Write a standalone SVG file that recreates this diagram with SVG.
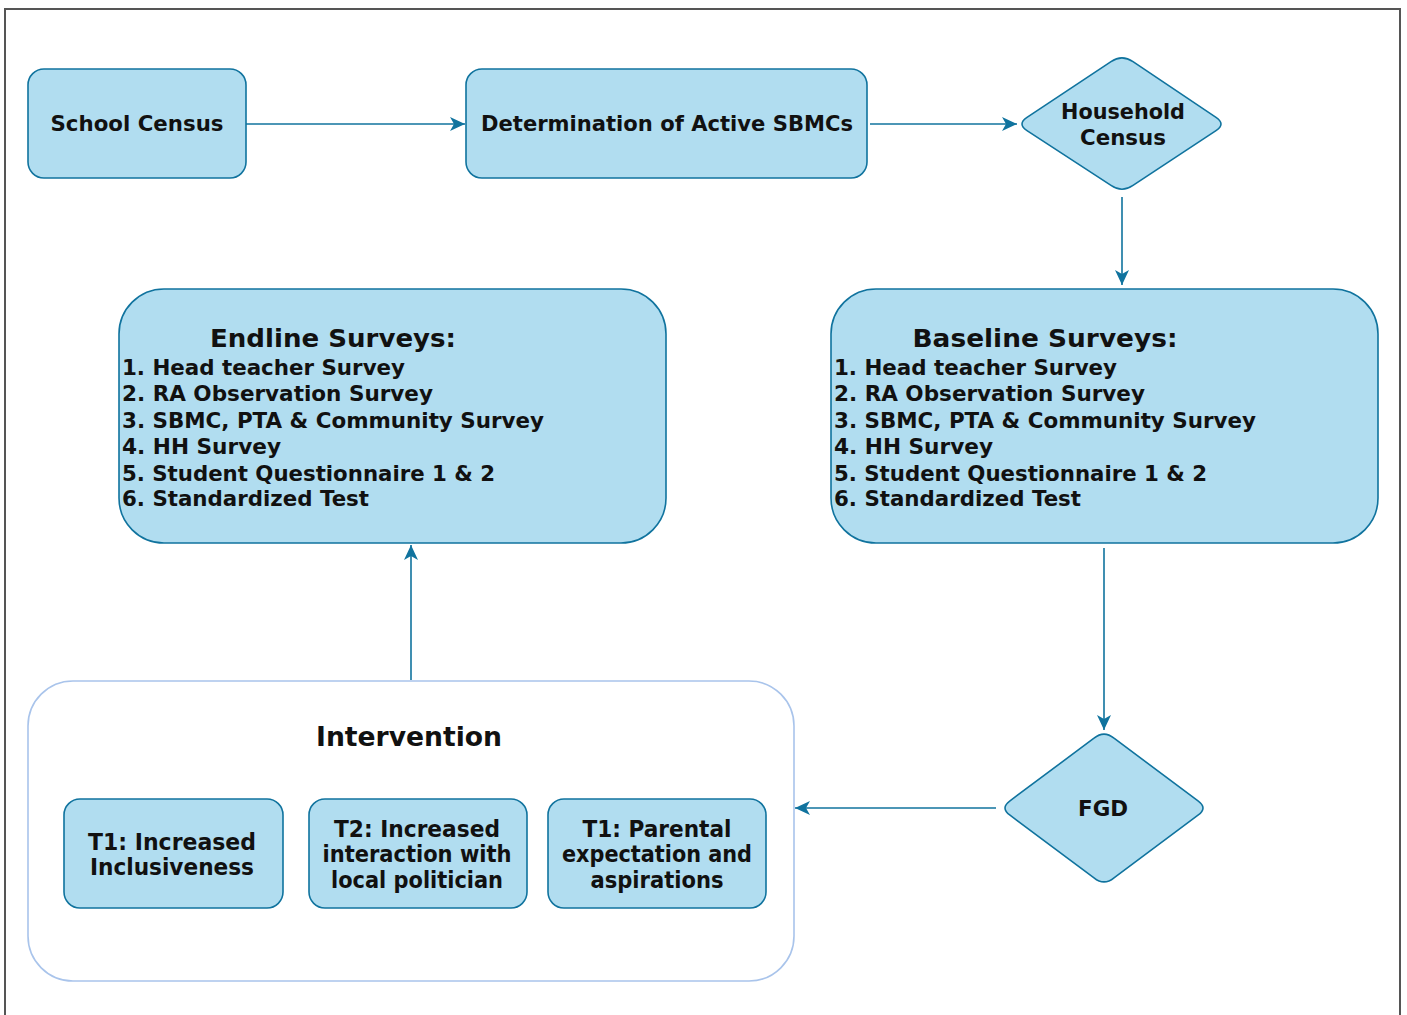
<svg xmlns="http://www.w3.org/2000/svg" width="1407" height="1015" viewBox="0 0 1407 1015">
<style>
.box{fill:#b1ddf0;stroke:#10739e;stroke-width:1.6}
.cont{fill:#ffffff;stroke:#a9c4eb;stroke-width:1.6}
.edge{fill:none;stroke:#10739e;stroke-width:1.6}
.t{font-family:"DejaVu Sans",Verdana,sans-serif;font-weight:bold;fill:#111}
.c{font-family:"DejaVu Sans Condensed","DejaVu Sans",sans-serif;font-weight:bold;fill:#111;font-stretch:condensed}
</style>
<defs>
<marker id="ah" markerUnits="userSpaceOnUse" markerWidth="18" markerHeight="14" refX="15" refY="7" orient="auto">
<path d="M0,0 L15,7 L0,14 L4,7 Z" fill="#10739e"/>
</marker>
</defs>
<rect x="0" y="0" width="1407" height="1015" fill="#ffffff"/>
<path d="M5,1015 V9 H1400 V1015" fill="none" stroke="#555" stroke-width="2"/>

<g id="connectors">
<line class="edge" x1="246" y1="124" x2="465" y2="124" marker-end="url(#ah)"/>
<line class="edge" x1="870" y1="124" x2="1017" y2="124" marker-end="url(#ah)"/>
<line class="edge" x1="1122" y1="197" x2="1122" y2="285" marker-end="url(#ah)"/>
<line class="edge" x1="1104" y1="548" x2="1104" y2="730" marker-end="url(#ah)"/>
<line class="edge" x1="996" y1="808" x2="795" y2="808" marker-end="url(#ah)"/>
<line class="edge" x1="411" y1="680" x2="411" y2="545" marker-end="url(#ah)"/>
</g>

<g id="school-census">
<rect class="box" x="28" y="69" width="218" height="109" rx="16"/>
<text class="t" x="137" y="131" font-size="21" text-anchor="middle" textLength="173" lengthAdjust="spacingAndGlyphs">School Census</text>
</g>

<g id="active-sbmcs">
<rect class="box" x="466" y="69" width="401" height="109" rx="16"/>
<text class="t" x="667" y="131" font-size="21" text-anchor="middle" textLength="372" lengthAdjust="spacingAndGlyphs">Determination of Active SBMCs</text>
</g>

<g id="household-census">
<path class="box" d="M1027,117.4 L1111,61.6 Q1122,54 1133,61.7 L1216,117.3 Q1226,124 1216,130.6 L1133,185.4 Q1122,193 1111,185.4 L1027,130.6 Q1017,124 1027,117.4 Z"/>
<text class="t" x="1123" y="119" font-size="21" text-anchor="middle" textLength="124" lengthAdjust="spacingAndGlyphs">Household</text>
<text class="t" x="1123" y="145" font-size="21" text-anchor="middle" textLength="86" lengthAdjust="spacingAndGlyphs">Census</text>
</g>

<g id="endline">
<rect class="box" x="119" y="289" width="547" height="254" rx="45"/>
<text class="t" x="333" y="347" font-size="25" text-anchor="middle" textLength="246" lengthAdjust="spacingAndGlyphs">Endline Surveys:</text>
<text class="t" font-size="20.5" x="122">
<tspan x="122" y="375" textLength="283" lengthAdjust="spacingAndGlyphs">1. Head teacher Survey</tspan>
<tspan x="122" y="401" textLength="311" lengthAdjust="spacingAndGlyphs">2. RA Observation Survey</tspan>
<tspan x="122" y="428" textLength="422" lengthAdjust="spacingAndGlyphs">3. SBMC, PTA &amp; Community Survey</tspan>
<tspan x="122" y="454" textLength="159" lengthAdjust="spacingAndGlyphs">4. HH Survey</tspan>
<tspan x="122" y="481" textLength="373" lengthAdjust="spacingAndGlyphs">5. Student Questionnaire 1 &amp; 2</tspan>
<tspan x="122" y="506" textLength="247" lengthAdjust="spacingAndGlyphs">6. Standardized Test</tspan>
</text>
</g>

<g id="baseline">
<rect class="box" x="831" y="289" width="547" height="254" rx="45"/>
<text class="t" x="1045" y="347" font-size="25" text-anchor="middle" textLength="265" lengthAdjust="spacingAndGlyphs">Baseline Surveys:</text>
<text class="t" font-size="20.5" x="834">
<tspan x="834" y="375" textLength="283" lengthAdjust="spacingAndGlyphs">1. Head teacher Survey</tspan>
<tspan x="834" y="401" textLength="311" lengthAdjust="spacingAndGlyphs">2. RA Observation Survey</tspan>
<tspan x="834" y="428" textLength="422" lengthAdjust="spacingAndGlyphs">3. SBMC, PTA &amp; Community Survey</tspan>
<tspan x="834" y="454" textLength="159" lengthAdjust="spacingAndGlyphs">4. HH Survey</tspan>
<tspan x="834" y="481" textLength="373" lengthAdjust="spacingAndGlyphs">5. Student Questionnaire 1 &amp; 2</tspan>
<tspan x="834" y="506" textLength="247" lengthAdjust="spacingAndGlyphs">6. Standardized Test</tspan>
</text>
</g>

<g id="fgd">
<path class="box" d="M1010,800.8 L1094,738.2 Q1104,730 1114,738.2 L1198,800.8 Q1208,808 1198,815.2 L1114,877.8 Q1104,886 1094,877.8 L1010,815.2 Q1000,808 1010,800.8 Z"/>
<text class="t" x="1103" y="816" font-size="22" text-anchor="middle" textLength="50" lengthAdjust="spacingAndGlyphs">FGD</text>
</g>

<g id="intervention">
<rect class="cont" x="28" y="681" width="766" height="300" rx="45"/>
<text class="c" x="409" y="746" font-size="27" text-anchor="middle" textLength="186" lengthAdjust="spacingAndGlyphs">Intervention</text>
</g>

<g id="t1-inclusiveness">
<rect class="box" x="64" y="799" width="219" height="109" rx="16"/>
<text class="c" x="172" y="850" font-size="23" text-anchor="middle" textLength="168" lengthAdjust="spacingAndGlyphs">T1: Increased</text>
<text class="c" x="172" y="875" font-size="23" text-anchor="middle" textLength="164" lengthAdjust="spacingAndGlyphs">Inclusiveness</text>
</g>

<g id="t2-politician">
<rect class="box" x="309" y="799" width="218" height="109" rx="16"/>
<text class="c" x="417" y="837" font-size="23" text-anchor="middle" textLength="166" lengthAdjust="spacingAndGlyphs">T2: Increased</text>
<text class="c" x="417" y="862" font-size="23" text-anchor="middle" textLength="189" lengthAdjust="spacingAndGlyphs">interaction with</text>
<text class="c" x="417" y="888" font-size="23" text-anchor="middle" textLength="172" lengthAdjust="spacingAndGlyphs">local politician</text>
</g>

<g id="t1-parental">
<rect class="box" x="548" y="799" width="218" height="109" rx="16"/>
<text class="c" x="657" y="837" font-size="23" text-anchor="middle" textLength="149" lengthAdjust="spacingAndGlyphs">T1: Parental</text>
<text class="c" x="657" y="862" font-size="23" text-anchor="middle" textLength="190" lengthAdjust="spacingAndGlyphs">expectation and</text>
<text class="c" x="657" y="888" font-size="23" text-anchor="middle" textLength="133" lengthAdjust="spacingAndGlyphs">aspirations</text>
</g>
</svg>
